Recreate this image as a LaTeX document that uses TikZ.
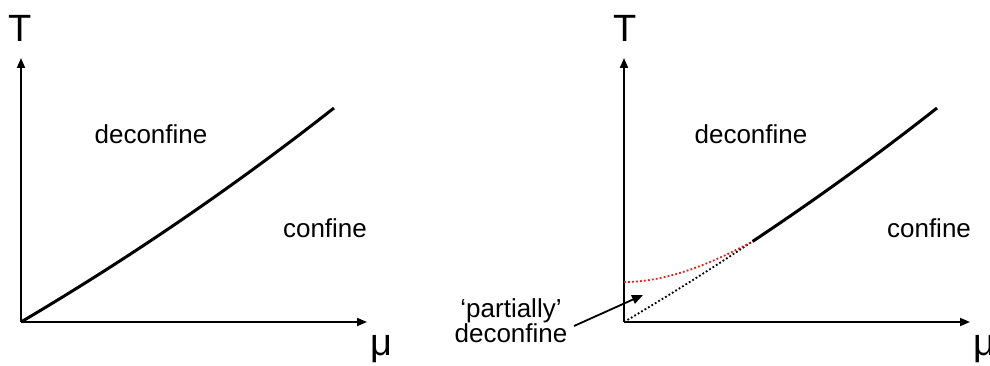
\documentclass[tikz,border=0pt]{standalone}
\usepackage{fontspec}
\setmainfont{Liberation Sans}
\usetikzlibrary{arrows.meta}
\definecolor{dotred}{RGB}{228,30,20}
\begin{document}
\begin{tikzpicture}[x=1pt,y=1pt,
  axis/.style={line width=1.8pt,-{Triangle[length=10pt,width=8pt]}},
  curve/.style={line width=3pt},
  dotline/.style={line width=1.8pt,dash pattern=on 1.8pt off 2.2pt},
  lbl/.style={font=\fontsize{26}{26}\selectfont,anchor=base,inner sep=0pt},
  big/.style={font=\fontsize{38}{38}\selectfont,anchor=base,inner sep=0pt}]
\useasboundingbox (0,0) rectangle (990,365);
% ---------- left panel ----------
\begin{scope}[shift={(21,43)}]
  \coordinate (O1) at (0,0);
  \coordinate (Y1) at (0,264);
  \coordinate (X1) at (346,0);
  \coordinate (E1) at (313,214);
  \draw[axis] (O1) -- (Y1);
  \draw[axis] (O1) -- (X1);
  \draw[curve] (O1) .. controls (109.1,64.4) and (213.4,135.7) .. (E1);
\end{scope}
\node[big] (T1) at (20,323) {T};
\node[big] (mu1) at (381,10) {μ};
\node[lbl] (dec1) at (151,222) {deconfine};
\node[lbl] (con1) at (325,128) {confine};
% ---------- right panel ----------
\begin{scope}[shift={(624,43)}]
  \coordinate (O2) at (0,0);
  \coordinate (Y2) at (0,264);
  \coordinate (X2) at (346,0);
  \coordinate (J2) at (128.6,80.6);
  \coordinate (E2) at (313,214);
  \coordinate (R2) at (0,40);
  \draw[axis] (O2) -- (Y2);
  \draw[axis] (O2) -- (X2);
  \draw[dotline,black] (O2) .. controls (43.6,25.8) and (86.5,52.6) .. (J2);
  \draw[dotline,dotred] (R2) .. controls (45,40) and (90,60) .. (J2);
  \draw[curve] (J2) .. controls (191.8,122.6) and (253.3,167) .. (E2);
\end{scope}
\node[big] (T2) at (625,323) {T};
\node[big] (mu2) at (984,10) {μ};
\node[lbl] (dec2) at (751,222) {deconfine};
\node[lbl] (con2) at (929,128) {confine};
\node[lbl] (part) at (511,48) {‘partially’};
\node[lbl] (pdec) at (511,23) {deconfine};
\coordinate (A0) at (574,39);
\coordinate (A1) at (643,70);
\draw[line width=1.8pt,-{Triangle[length=11pt,width=9pt]}] (A0) -- (A1);
\end{tikzpicture}
\end{document}
